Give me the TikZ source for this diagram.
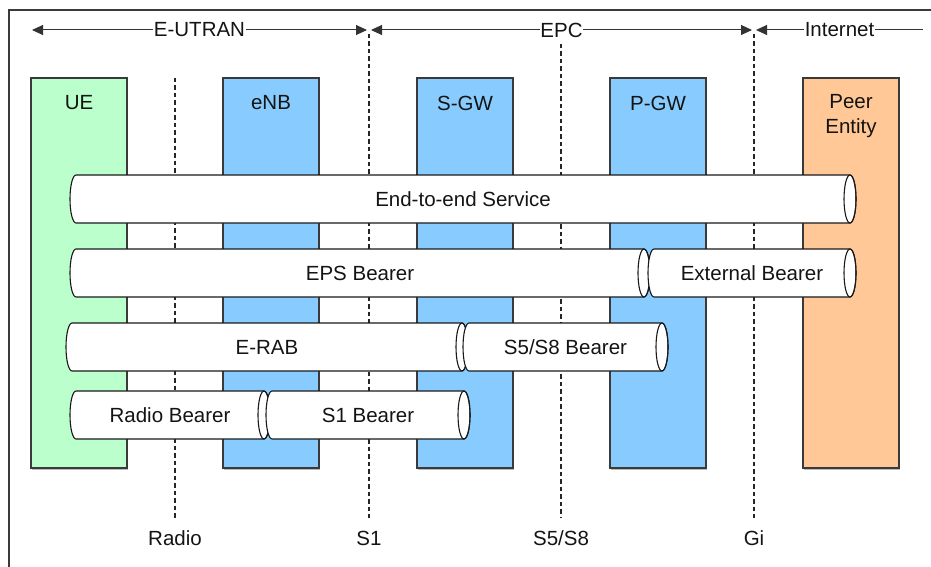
\documentclass[tikz,border=0pt]{standalone}
\usepackage{fontspec}
\setmainfont{Liberation Sans}
\usetikzlibrary{arrows.meta,shadows}
\definecolor{uegreen}{HTML}{BBFFCC}
\definecolor{nodeblue}{HTML}{88CCFF}
\definecolor{peerorange}{HTML}{FFC896}
\definecolor{edge}{HTML}{3A3A3A}
\newcommand\mypipe[5]{%
  \draw[pipebody] ({#2+6},{-(#4)+24}) -- ({#3-6},{-(#4)+24})
    arc[start angle=90,end angle=-90,x radius=6,y radius=24]
    -- ({#2+6},{-(#4)-24})
    arc[start angle=270,end angle=90,x radius=6,y radius=24] -- cycle;
  \draw[pipeedge] ({#3-6},{-(#4)}) ellipse[x radius=6,y radius=24];
  \node[lbl] (#1) at ({(#2+#3)/2},{-(#4)}) {#5};
}
\begin{document}
\begin{tikzpicture}[x=1pt,y=1pt,
  lbl/.style={inner sep=0pt,font=\fontsize{20.5}{24}\selectfont,text=black!92},
  colbox/.style={draw=edge,line width=1.3pt,minimum width=96pt,minimum height=390pt,inner sep=0pt,
     drop shadow={shadow xshift=1.2pt,shadow yshift=-1.5pt,opacity=.45,fill=black!60}},
  pipebody/.style={draw=black!90,fill=white,line width=1.1pt},
  pipeedge/.style={draw=black!90,line width=1.1pt},
  refline/.style={draw=black!85,line width=1.2pt,dash pattern=on 4.5pt off 3pt},
  spanarrow/.style={draw=black!80,line width=1pt},
  tipboth/.style={{Triangle[length=11pt,width=10pt]}-{Triangle[length=11pt,width=10pt]}},
  spanlbl/.style={lbl,fill=white,inner xsep=0.5pt}]
\useasboundingbox (0,0) rectangle (931,-567);
% frame
\draw[edge,line width=1.3pt] (9,-567) -- (9,-10) -- (931,-10);
% span arrows
\coordinate (eu1) at (32,-30); \coordinate (eu2) at (367,-30);
\coordinate (ep1) at (371,-30); \coordinate (ep2) at (752,-30);
\coordinate (in1) at (756,-30); \coordinate (in2) at (923,-30);
\draw[spanarrow,tipboth] (eu1) -- node[spanlbl] (eutran) {E-UTRAN} (eu2);
\draw[spanarrow,tipboth] (ep1) -- node[spanlbl] (epc) {EPC} (ep2);
\draw[spanarrow,{Triangle[length=11pt,width=10pt]}-] (in1) -- node[spanlbl] (inet) {Internet} (in2);
% reference lines
\coordinate (r1) at (175,-78);  \coordinate (r1b) at (175,-518);
\coordinate (s1) at (369,-34);  \coordinate (s1b) at (369,-518);
\coordinate (s5) at (561,-44);  \coordinate (s5b) at (561,-518);
\coordinate (gi) at (754,-34);  \coordinate (gib) at (754,-518);
\draw[refline] (r1) -- (r1b);
\draw[refline] (s1) -- (s1b);
\draw[refline] (s5) -- (s5b);
\draw[refline] (gi) -- (gib);
\node[lbl] (lradio) at (175,-538) {Radio};
\node[lbl] (ls1) at (369,-538) {S1};
\node[lbl] (ls5) at (561,-538) {S5/S8};
\node[lbl] (lgi) at (754,-538) {Gi};
% columns
\node[colbox,fill=uegreen] (ue) at (79,-273) {};
\node[colbox,fill=nodeblue] (enb) at (271,-273) {};
\node[colbox,fill=nodeblue] (sgw) at (465,-273) {};
\node[colbox,fill=nodeblue] (pgw) at (658,-273) {};
\node[colbox,fill=peerorange] (peer) at (851,-273) {};
\node[lbl] (tue) at (79,-103) {UE};
\node[lbl] (tenb) at (271,-103) {eNB};
\node[lbl] (tsgw) at (465,-103) {S-GW};
\node[lbl] (tpgw) at (658,-103) {P-GW};
\node[lbl,align=center,font=\fontsize{20.5}{25}\selectfont] (tpeer) at (851,-116) {Peer\\Entity};
% bearers
\mypipe{e2e}{70}{856}{199}{End-to-end Service}
\mypipe{eps}{70}{650}{273}{EPS Bearer}
\mypipe{ext}{648}{856}{273}{External Bearer}
\mypipe{erab}{66}{468}{347}{E-RAB}
\mypipe{s58}{463}{668}{347}{S5/S8 Bearer}
\mypipe{rb}{70}{270}{415}{Radio Bearer}
\mypipe{s1b}{266}{470}{415}{S1 Bearer}
\end{tikzpicture}
\end{document}
